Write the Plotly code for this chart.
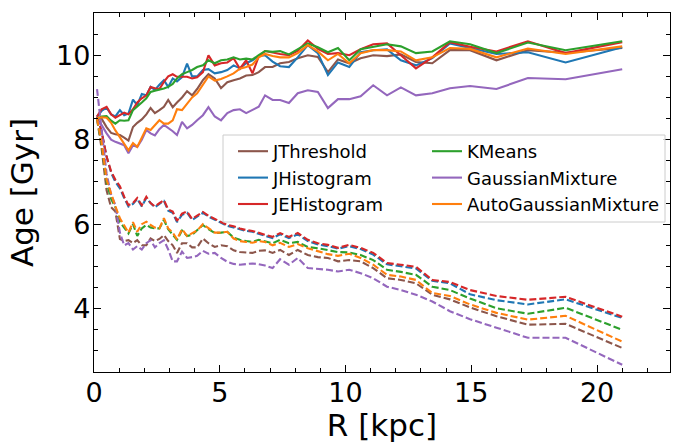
import plotly.graph_objects as go

R = [0.12, 0.3, 0.5, 0.68, 0.85, 1.03, 1.2, 1.37, 1.55, 1.72, 1.9, 2.08, 2.25, 2.42, 2.6,
     2.78, 2.95, 3.13, 3.3, 3.5, 3.7, 3.9, 4.1, 4.33, 4.55, 4.8, 5.05, 5.3, 5.55, 5.8,
     6.05, 6.3, 6.55, 6.8, 7.1, 7.4, 7.75, 8.1, 8.5, 8.9, 9.3, 9.7, 10.15, 10.6, 11.1,
     11.65, 12.2, 12.8, 13.45, 14.15, 14.95, 16.0, 17.25, 18.75, 21.0]

methods = ["JThreshold", "JHistogram", "JEHistogram", "KMeans", "GaussianMixture", "AutoGaussianMixture"]
colors = ["#8c564b", "#1f77b4", "#d62728", "#2ca02c", "#9467bd", "#ff7f0e"]
legend_col = ["legend", "legend", "legend", "legend2", "legend2", "legend2"]

# Solid lines (upper set)
jthreshold_hi = [8.5, 8.5, 8.3, 8.16, 8.13, 8.11, 8.05, 7.98, 8.3, 8.4, 8.48, 8.6, 8.75, 8.63, 8.7,
                 8.78, 8.94, 8.77, 8.88, 9.0, 9.15, 9.05, 9.2, 9.41, 9.55, 9.45, 9.22, 9.36, 9.41, 9.45,
                 9.52, 9.53, 9.6, 9.72, 9.72, 9.81, 9.84, 9.93, 10.0, 9.96, 9.6, 9.9, 9.81, 9.93, 10.0,
                 9.98, 10.02, 9.84, 9.81, 10.12, 10.12, 9.88, 10.12, 10.06, 10.17]
jhistogram_hi = [8.55, 8.68, 8.76, 8.6, 8.55, 8.7, 8.58, 8.62, 8.95, 8.82, 9.08, 9.05, 9.25, 9.18, 9.3,
                 9.41, 9.25, 9.45, 9.38, 9.48, 9.8, 9.5, 9.5, 9.65, 9.67, 9.57, 9.6, 9.65, 9.76, 9.69,
                 9.81, 9.88, 9.98, 10.0, 9.85, 9.74, 9.72, 9.95, 10.24, 10.05, 9.53, 9.83, 9.72, 10.07, 10.12,
                 10.14, 9.88, 9.76, 9.93, 10.28, 10.17, 10.03, 10.07, 9.83, 10.19]
jehistogram_hi = [8.55, 8.72, 8.78, 8.6, 8.52, 8.58, 8.64, 8.6, 8.72, 8.88, 8.98, 9.05, 9.25, 9.22, 9.2,
                  9.37, 9.5, 9.55, 9.49, 9.49, 9.49, 9.45, 9.48, 9.6, 10.0, 9.76, 9.81, 9.83, 9.93, 9.68,
                  9.88, 9.57, 9.97, 10.1, 10.06, 10.03, 10.0, 10.1, 10.35, 10.15, 10.03, 10.05, 10.0, 10.14, 10.26,
                  10.28, 10.0, 9.69, 9.95, 10.31, 10.2, 10.09, 10.33, 10.05, 10.31]
kmeans_hi = [8.5, 8.55, 8.56, 8.45, 8.38, 8.46, 8.45, 8.46, 8.7, 8.78, 8.88, 8.98, 9.13, 9.16, 9.18,
             9.21, 9.25, 9.32, 9.45, 9.55, 9.6, 9.65, 9.72, 9.76, 9.88, 9.81, 9.88, 9.9, 9.95, 9.9,
             9.92, 9.9, 10.0, 10.1, 10.08, 10.1, 10.02, 10.15, 10.28, 10.19, 10.07, 10.17, 9.88, 10.14, 10.19,
             10.26, 10.21, 10.05, 10.09, 10.33, 10.26, 10.05, 10.3, 10.12, 10.33]
gmm_hi = [8.45, 8.35, 8.15, 8.0, 7.95, 7.9, 7.87, 7.68, 7.87, 7.83, 8.0, 8.23, 8.15, 8.1, 8.25,
          8.35, 8.28, 8.2, 8.11, 8.42, 8.27, 8.35, 8.46, 8.58, 8.77, 8.55, 8.46, 8.63, 8.7, 8.72,
          8.63, 8.7, 8.78, 9.05, 8.94, 8.94, 8.87, 9.1, 9.17, 9.13, 8.75, 8.96, 8.96, 9.03, 9.29,
          9.05, 9.24, 9.05, 9.1, 9.22, 9.27, 9.2, 9.46, 9.43, 9.67]
agmm_hi = [8.5, 8.53, 8.52, 8.4, 8.22, 8.05, 7.9, 7.75, 7.92, 7.83, 8.05, 8.27, 8.23, 8.35, 8.46,
           8.38, 8.38, 8.46, 8.72, 8.7, 8.85, 9.0, 9.1, 9.3, 9.5, 9.4, 9.44, 9.5, 9.57, 9.68,
           9.72, 9.78, 9.95, 10.03, 9.98, 9.95, 9.95, 10.05, 10.24, 10.09, 9.88, 10.03, 9.81, 10.05, 10.12,
           10.12, 10.09, 9.88, 9.95, 10.17, 10.15, 9.95, 10.16, 10.03, 10.21]

# Dashed lines (lower set)
jthreshold_lo = [8.5, 7.8, 6.8, 6.4, 6.3, 5.65, 5.6, 5.62, 5.55, 5.62, 5.5, 5.5, 5.66, 5.6, 5.65,
                 5.74, 5.6, 5.5, 5.32, 5.55, 5.55, 5.45, 5.45, 5.66, 5.55, 5.46, 5.5, 5.48, 5.38, 5.34,
                 5.33, 5.32, 5.37, 5.38, 5.32, 5.39, 5.27, 5.39, 5.27, 5.22, 5.2, 5.12, 5.15, 5.12, 4.96,
                 4.72, 4.68, 4.6, 4.33, 4.22, 4.03, 3.82, 3.62, 3.64, 3.07]
jhistogram_lo = [8.55, 8.2, 7.6, 7.22, 7.0, 6.85, 6.62, 6.42, 6.48, 6.6, 6.42, 6.62, 6.5, 6.4, 6.48,
                 6.55, 6.32, 6.27, 6.05, 6.22, 6.27, 6.1, 6.18, 6.27, 6.18, 6.1, 6.02, 5.96, 5.92, 5.88,
                 5.84, 5.82, 5.77, 5.72, 5.67, 5.76, 5.67, 5.76, 5.6, 5.52, 5.48, 5.42, 5.48, 5.41, 5.28,
                 5.05, 5.0, 4.95, 4.66, 4.6, 4.34, 4.2, 4.1, 4.22, 3.78]
jehistogram_lo = [8.55, 8.2, 7.6, 7.25, 7.05, 6.9, 6.65, 6.45, 6.5, 6.62, 6.45, 6.65, 6.5, 6.42, 6.5,
                  6.57, 6.35, 6.3, 6.08, 6.25, 6.3, 6.12, 6.2, 6.29, 6.2, 6.12, 6.05, 5.98, 5.95, 5.9,
                  5.86, 5.84, 5.79, 5.75, 5.7, 5.79, 5.7, 5.79, 5.63, 5.55, 5.51, 5.44, 5.51, 5.44, 5.32,
                  5.08, 5.04, 4.99, 4.68, 4.63, 4.44, 4.3, 4.21, 4.28, 3.81]
kmeans_lo = [8.5, 7.9, 7.0, 6.6, 6.4, 6.05, 5.92, 5.78, 6.0, 5.72, 5.9, 5.98, 5.92, 5.9, 5.9,
             6.1, 5.88, 5.75, 5.63, 5.85, 5.72, 5.75, 5.85, 5.98, 5.88, 5.79, 5.8, 5.82, 5.68, 5.63,
             5.6, 5.58, 5.63, 5.6, 5.55, 5.63, 5.55, 5.58, 5.46, 5.43, 5.39, 5.34, 5.33, 5.27, 5.15,
             4.92, 4.87, 4.8, 4.52, 4.44, 4.24, 4.01, 3.88, 4.02, 3.5]
gmm_lo = [9.2, 8.3, 7.2, 6.7, 6.45, 5.8, 5.5, 5.55, 5.4, 5.48, 5.4, 5.55, 5.62, 5.45, 5.55,
          5.62, 5.4, 5.12, 5.12, 5.35, 5.2, 5.22, 5.25, 5.37, 5.3, 5.32, 5.2, 5.11, 5.06, 5.04,
          5.06, 5.07, 5.05, 5.02, 4.96, 5.17, 5.04, 5.2, 4.96, 4.94, 4.92, 4.88, 4.92, 4.84, 4.72,
          4.52, 4.44, 4.33, 4.17, 3.94, 3.75, 3.55, 3.31, 3.31, 2.67]
agmm_lo = [8.5, 7.95, 7.05, 6.7, 6.42, 6.14, 5.98, 5.8, 6.05, 5.82, 6.0, 6.06, 5.98, 5.92, 5.9,
           6.14, 5.9, 5.8, 5.64, 5.88, 5.72, 5.78, 5.85, 6.0, 5.9, 5.8, 5.8, 5.82, 5.66, 5.6,
           5.58, 5.56, 5.6, 5.58, 5.5, 5.56, 5.46, 5.53, 5.43, 5.36, 5.29, 5.25, 5.3, 5.2, 5.04,
           4.8, 4.76, 4.68, 4.37, 4.3, 4.1, 3.9, 3.74, 3.83, 3.22]

hi_sets = [jthreshold_hi, jhistogram_hi, jehistogram_hi, kmeans_hi, gmm_hi, agmm_hi]
lo_sets = [jthreshold_lo, jhistogram_lo, jehistogram_lo, kmeans_lo, gmm_lo, agmm_lo]

FONT = "DejaVu Sans"
W, H = 673, 443
ML, MR, MT, MB = 94, 3, 13, 71
PW, PH = W - ML - MR, H - MT - MB

fig = go.Figure()
for name, col, leg, hi, lo in zip(methods, colors, legend_col, hi_sets, lo_sets):
    fig.add_trace(go.Scatter(x=R, y=hi, mode="lines", name=name, legend=leg,
                             line=dict(color=col, width=2.1)))
    fig.add_trace(go.Scatter(x=R, y=lo, mode="lines", name=name, showlegend=False,
                             line=dict(color=col, width=2.1, dash="7px,3px")))

axis_common = dict(
    showline=True, linecolor="black", linewidth=1.3, mirror="allticks",
    ticks="inside", ticklen=7, tickwidth=1.3, tickcolor="black",
    showgrid=False, zeroline=False,
    tickfont=dict(family=FONT, size=27, color="black"),
)

fig.update_xaxes(
    range=[0, 22.9], tickmode="array", tickvals=[0, 5, 10, 15, 20],
    ticklabelstandoff=-4,
    minor=dict(ticks="inside", ticklen=4, tickwidth=1, tickcolor="black",
               tickvals=list(range(0, 23))),
    title=dict(text="R [kpc]", font=dict(family=FONT, size=31, color="black"), standoff=12),
    **axis_common,
)
fig.update_yaxes(
    range=[2.5, 11.0], tickmode="array", tickvals=[4, 6, 8, 10],
    ticklabelstandoff=-3,
    minor=dict(ticks="inside", ticklen=4, tickwidth=1, tickcolor="black",
               tickvals=[2.5 + 0.5 * i for i in range(18)]),
    title=dict(text="Age [Gyr]", font=dict(family=FONT, size=31, color="black"), standoff=13),
    **axis_common,
)

# legend frame in paper coordinates
bx0, bx1 = (223 - ML) / PW, (665 - ML) / PW
by1, by0 = (H - MB - 135) / PH, (H - MB - 222) / PH
fig.add_shape(type="rect", xref="paper", yref="paper", x0=bx0, x1=bx1, y0=by0, y1=by1,
              line=dict(color="#cccccc", width=1), fillcolor="rgba(255,255,255,0.8)", layer="above")

leg_common = dict(orientation="v", xanchor="left", yanchor="top",
                  y=(H - MB - 133) / PH, bgcolor="rgba(0,0,0,0)", borderwidth=0,
                  font=dict(family=FONT, size=18, color="black"), traceorder="normal")

fig.update_layout(
    width=W, height=H,
    margin=dict(l=ML, r=MR, t=MT, b=MB, autoexpand=False),
    paper_bgcolor="white", plot_bgcolor="white",
    font=dict(family=FONT, color="black"),
    legend=dict(x=(233 - ML) / PW, **leg_common),
    legend2=dict(x=(427 - ML) / PW, **leg_common),
)

fig.write_html("out.html")
